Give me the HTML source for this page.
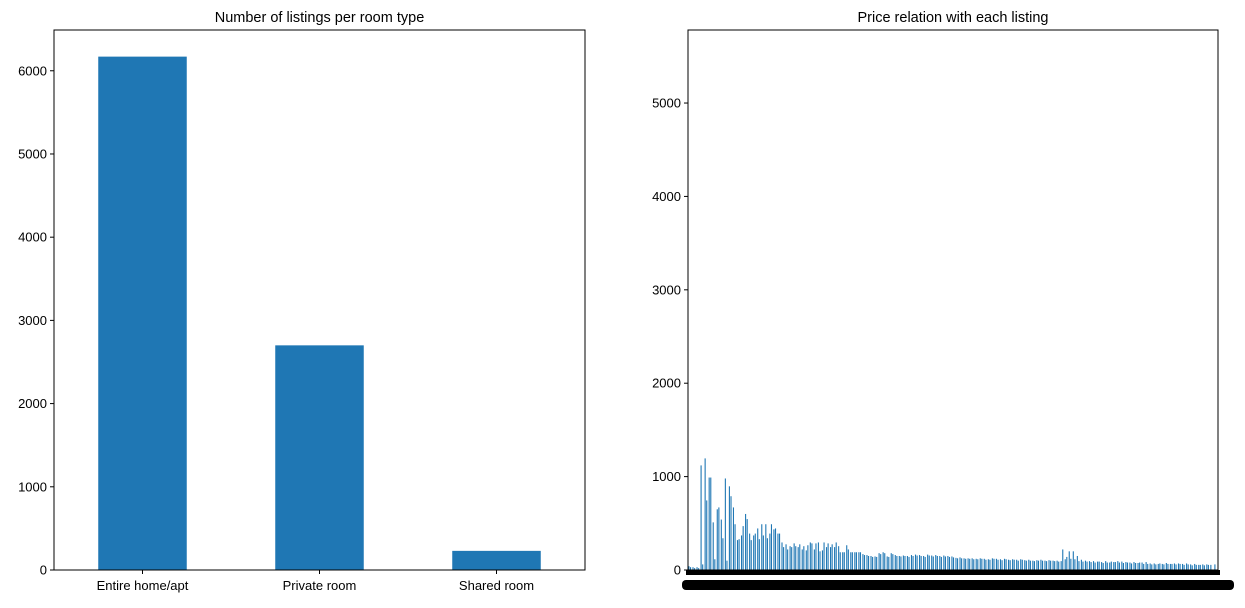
<!DOCTYPE html>
<html><head><meta charset="utf-8"><style>
body{margin:0;background:#fff;}
svg text{font-family:"Liberation Sans",sans-serif;fill:#000;}
</style></head><body>
<svg id="chart" width="1245" height="603" xmlns="http://www.w3.org/2000/svg"></svg>
<script>
const roomTypes=["Entire home/apt","Private room","Shared room"];
const roomCounts=[6170,2700,230];
const leftTicks=[0,1000,2000,3000,4000,5000,6000];
const rightTicks=[0,1000,2000,3000,4000,5000];
const priceA=[40,30,30,1120,1195,990,510,650,540,980,896,670,320,370,600,390,370,445,490,490,390,435,390,295,275,255,285,245,220,210,295,220,295,210,245,245,245,255,190,265,190,190,190,
170,160,150,145,180,190,145,180,160,150,155,150,160,165,160,150,165,155,160,150,155,150,145,130,135,125,
125,125,120,125,120,115,125,120,115,120,110,115,110,115,105,110,100,105,110,100,105,100,100,95,115,200,200,150,110,100,95,95,90,85,95,80,85,95,90,85,80,85,75,80,85,70,70,65,65,75,65,70,70,65,70,60,65,55,60,60,55,60];
const priceB=[30,20,20,60,745,990,115,670,340,100,790,490,330,470,545,320,390,330,370,340,490,445,390,245,220,245,255,275,255,265,285,285,200,295,285,275,295,190,190,220,190,190,190,
160,150,140,140,170,180,140,170,150,145,150,140,150,155,150,140,155,145,150,140,145,140,135,125,125,120,
120,115,115,120,110,110,120,110,105,115,105,110,100,110,100,100,95,100,100,95,100,95,90,220,140,120,115,95,90,90,85,80,90,75,80,90,85,80,75,80,70,75,80,65,65,60,60,70,60,65,65,60,65,55,60,50,55,55,50,55];
const NS="http://www.w3.org/2000/svg";
const svg=document.getElementById('chart');
function mk(tag,attrs,parent){const e=document.createElementNS(NS,tag);for(const k in attrs)e.setAttribute(k,attrs[k]);(parent||svg).appendChild(e);return e;}
// LEFT
const L={x0:54,x1:585,y0:30,y1:570,ymax:6490};
const ly=v=>L.y1-(v/L.ymax)*(L.y1-L.y0);
const lcw=(L.x1-L.x0)/roomTypes.length;
roomCounts.forEach((v,i)=>{
 const cx=L.x0+lcw*(i+0.5);
 const r=mk('rect',{x:cx-lcw/4,y:ly(v),width:lcw/2,height:L.y1-ly(v),fill:'#1f77b4'});
 
 
 mk('line',{x1:cx,x2:cx,y1:L.y1,y2:L.y1+4,stroke:'#000'});
 const t=mk('text',{x:cx,y:L.y1+20,'text-anchor':'middle','font-size':13});t.textContent=roomTypes[i];
 
 
});
leftTicks.forEach(v=>{
 mk('line',{x1:L.x0-4,x2:L.x0,y1:ly(v),y2:ly(v),stroke:'#000'});
 const t=mk('text',{x:L.x0-7,y:ly(v)+4.5,'text-anchor':'end','font-size':13});t.textContent=v;
 
 
});
const lb=mk('rect',{x:L.x0,y:L.y0,width:L.x1-L.x0,height:L.y1-L.y0,fill:'none',stroke:'#000','stroke-width':1});


const lt=mk('text',{x:(L.x0+L.x1)/2,y:22,'text-anchor':'middle','font-size':14.5});lt.textContent='Number of listings per room type';


// RIGHT
const R={x0:688,x1:1218,y0:30,y1:570,ymax:5782};
const ry=v=>R.y1-(v/R.ymax)*(R.y1-R.y0);
const gw=(R.x1-R.x0)/priceA.length;
priceA.forEach((v,i)=>{
 const x=R.x0+gw*i+0.4;
 const a=mk('rect',{x:x,y:ry(v),width:1.1,height:R.y1-ry(v),fill:'#1f77b4'});
 
 
 const w=priceB[i];
 const b=mk('rect',{x:x+1.6,y:ry(w),width:1.1,height:R.y1-ry(w),fill:'#1f77b4'});
 
 
});
rightTicks.forEach(v=>{
 mk('line',{x1:R.x0-4,x2:R.x0,y1:ry(v),y2:ry(v),stroke:'#000'});
 const t=mk('text',{x:R.x0-7,y:ry(v)+4.5,'text-anchor':'end','font-size':13});t.textContent=v;
 
 
});
const tb=mk('rect',{x:R.x0-2,y:R.y1,width:R.x1-R.x0+4,height:5,fill:'#000'});


const xb=mk('rect',{x:682,y:580,width:552,height:10,rx:4,fill:'#000'});


const rb=mk('rect',{x:R.x0,y:R.y0,width:R.x1-R.x0,height:R.y1-R.y0,fill:'none',stroke:'#000','stroke-width':1});


const rt=mk('text',{x:(R.x0+R.x1)/2,y:22,'text-anchor':'middle','font-size':14.5});rt.textContent='Price relation with each listing';


</script>
</body></html>
